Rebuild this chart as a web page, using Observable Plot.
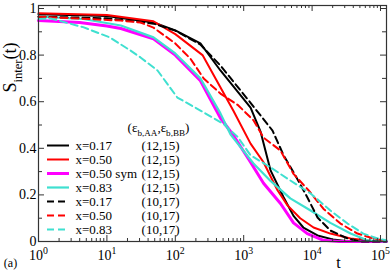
<!DOCTYPE html>
<html>
<head>
<meta charset="utf-8">
<script src="https://cdn.jsdelivr.net/npm/d3@7"></script>
<script src="https://cdn.jsdelivr.net/npm/@observablehq/plot@0.6"></script>
<style>
  html, body { margin: 0; padding: 0; background: #fff; }
  #chart { width: 390px; height: 271px; }
  #chart svg text { font-family: "Liberation Serif", "DejaVu Serif", serif !important; }
</style>
</head>
<body>
<div id="chart"></div>
<script>
// ---- data (t on log axis, S_inter(t)) ----
const t_017_a = [1, 10, 48, 100, 233, 457, 1260, 1770, 2470, 3830, 5350, 7450, 12000, 20000, 36000, 122000];
const S_017_a = [0.975, 0.968, 0.94, 0.906, 0.85, 0.734, 0.575, 0.47, 0.305, 0.19, 0.11, 0.06, 0.026, 0.009, 0.0, 0.0];

const t_050_a = [1, 10, 48, 100, 250, 710, 1260, 1950, 3120, 4370, 6700, 10500, 18500, 36500, 71000, 122000];
const S_050_a = [0.98, 0.972, 0.945, 0.89, 0.80, 0.56, 0.42, 0.34, 0.22, 0.155, 0.10, 0.06, 0.034, 0.013, 0.003, 0.0];

const t_050s_a = [1, 4, 10, 16, 48, 100, 233, 457, 710, 1260, 1950, 3450, 5350, 8500, 14700, 25000, 122000];
const S_050s_a = [0.948, 0.94, 0.925, 0.914, 0.87, 0.80, 0.69, 0.53, 0.455, 0.34, 0.25, 0.163, 0.08, 0.034, 0.005, 0.0, 0.0];

const t_083_a = [1, 4.5, 16, 48, 100, 233, 457, 640, 1390, 2470, 4800, 9500, 18500, 36500, 64000, 122000];
const S_083_a = [0.965, 0.955, 0.927, 0.876, 0.807, 0.70, 0.55, 0.46, 0.335, 0.26, 0.185, 0.133, 0.08, 0.034, 0.005, 0.0];

const t_017_b = [1, 10, 48, 100, 233, 457, 1260, 2640, 3830, 5700, 8500, 12000, 18500, 33000, 51000, 122000];
const S_017_b = [0.965, 0.958, 0.935, 0.905, 0.845, 0.755, 0.595, 0.476, 0.37, 0.283, 0.19, 0.103, 0.047, 0.013, 0.0, 0.0];

const t_050_b = [1, 16, 31, 48, 100, 166, 260, 457, 835, 1390, 1950, 3450, 5350, 8850, 14700, 26000, 46000, 79000, 122000];
const S_050_b = [0.965, 0.948, 0.94, 0.918, 0.85, 0.785, 0.70, 0.635, 0.584, 0.52, 0.446, 0.39, 0.29, 0.22, 0.14, 0.077, 0.034, 0.013, 0.003];

const t_083_b = [1, 1.5, 4.5, 11, 22, 31, 55, 107, 233, 505, 810, 1260, 2470, 4800, 9500, 18500, 33000, 56000, 91000, 122000];
const S_083_b = [0.955, 0.957, 0.92, 0.876, 0.82, 0.79, 0.734, 0.618, 0.562, 0.505, 0.45, 0.37, 0.318, 0.262, 0.206, 0.133, 0.077, 0.034, 0.013, 0.005];

const seriesLabels = ["x=0.17", "x=0.50", "x=0.50 sym", "x=0.83", "x=0.17", "x=0.50", "x=0.83"];
const seriesParams = ["(12,15)", "(12,15)", "(12,15)", "(12,15)", "(10,17)", "(10,17)", "(10,17)"];
const legendTitle = "(ε_{b,AA},ε_{b,BB})";
const yLabel = "S_{inter}(t)";
const xLabel = "t";
const panelLabel = "(a)";

const xTicks = [1, 10, 100, 1000, 10000, 100000];
const yTicks = [0, 0.2, 0.4, 0.6, 0.8, 1];
const yMinor = [0.1, 0.3, 0.5, 0.7, 0.9];

// ---- styles ----
const FONT = "Liberation Serif";
const styles = [
  {color: "#000000", width: 2,   dash: null},
  {color: "#ff0000", width: 2,   dash: null},
  {color: "#ff00ff", width: 3,   dash: null},
  {color: "#3fe0d0", width: 2.2, dash: null},
  {color: "#000000", width: 2,   dash: "7,4"},
  {color: "#ff0000", width: 2,   dash: "7,4"},
  {color: "#3fe0d0", width: 2,   dash: "7,4"}
];
const seriesT = [t_017_a, t_050_a, t_050s_a, t_083_a, t_017_b, t_050_b, t_083_b];
const seriesS = [S_017_a, S_050_a, S_050s_a, S_083_a, S_017_b, S_050_b, S_083_b];

// ---- layout ----
const W = 390, H = 271;
const mL = 38, mR = 4, mT = 5, mB = 30;
const xMax = 1.224e5, yMax = 1.0129;
const fw = W - mL - mR, fh = H - mT - mB;
// convert pixel layout positions (legend, labels) into data coordinates
const px2t = p => Math.pow(10, (p - mL) / fw * Math.log10(xMax));
const py2S = p => (H - mB - p) / fh * yMax;

const xMinor = [];
for (let k = 0; k < 5; k++) for (let m = 2; m <= 9; m++) if (m * 10 ** k < xMax) xMinor.push(m * 10 ** k);

const marks = [];
// curves
seriesT.forEach((ts, i) => {
  const rows = ts.map((t, j) => ({t, S: seriesS[i][j]}));
  marks.push(Plot.line(rows, {x: "t", y: "S", stroke: styles[i].color, strokeWidth: styles[i].width,
    strokeDasharray: styles[i].dash ?? undefined, strokeLinejoin: "round"}));
});

// legend
const legendRows = seriesLabels.map((label, i) => ({i, label, param: seriesParams[i], y: py2S(145 + 14 * i)}));
legendRows.forEach((r) => {
  marks.push(Plot.ruleY([r], {y: "y", x1: px2t(47), x2: px2t(69), stroke: styles[r.i].color,
    strokeWidth: styles[r.i].width, strokeDasharray: styles[r.i].dash ?? undefined}));
});
marks.push(Plot.text(legendRows, {x: px2t(75), y: "y", text: "label", textAnchor: "start", fontSize: 13, fontFamily: FONT, fill: "#000"}));
marks.push(Plot.text(legendRows, {x: px2t(160), y: "y", text: "param", textAnchor: "middle", fontSize: 13, fontFamily: FONT, fill: "#000"}));
marks.push(Plot.text([legendTitle], {x: px2t(158), y: py2S(127), text: d => d, textAnchor: "middle", fontSize: 13, fontFamily: FONT, fill: "#000"}));

// frame and ticks (inward, all four sides)
const tickColor = "#333";
marks.push(Plot.tickX(xTicks, {x: d => d, insetTop: fh - 6, stroke: tickColor}));
marks.push(Plot.tickX(xTicks, {x: d => d, insetBottom: fh - 6, stroke: tickColor}));
marks.push(Plot.tickX(xMinor, {x: d => d, insetTop: fh - 3, stroke: tickColor}));
marks.push(Plot.tickX(xMinor, {x: d => d, insetBottom: fh - 3, stroke: tickColor}));
marks.push(Plot.tickY(yTicks, {y: d => d, insetRight: fw - 6, stroke: tickColor}));
marks.push(Plot.tickY(yTicks, {y: d => d, insetLeft: fw - 6, stroke: tickColor}));
marks.push(Plot.tickY(yMinor, {y: d => d, insetRight: fw - 4, stroke: tickColor}));
marks.push(Plot.tickY(yMinor, {y: d => d, insetLeft: fw - 4, stroke: tickColor}));
marks.push(Plot.frame({stroke: tickColor, strokeWidth: 1.2}));

// tick labels
marks.push(Plot.text(yTicks, {y: d => d, frameAnchor: "left", text: d => String(d), textAnchor: "end", dx: -2, dy: 0, fontSize: 14, fontFamily: FONT, fill: "#000"}));
marks.push(Plot.text(xTicks, {x: d => d, frameAnchor: "bottom", text: d => `10^{${Math.round(Math.log10(d))}}`, dy: 18, fontSize: 14, fontFamily: FONT, fill: "#000"}));

// axis labels (positioned from pixel layout)
marks.push(Plot.text([xLabel], {x: px2t(338), y: py2S(262), text: d => d, fontSize: 16, fontFamily: FONT, fill: "#000"}));
marks.push(Plot.text([panelLabel], {x: px2t(10), y: py2S(263), text: d => d, fontSize: 12, fontFamily: FONT, fill: "#000"}));
marks.push(Plot.text([yLabel], {x: px2t(10), y: py2S(67), text: d => d, rotate: -90, fontSize: 18, fontFamily: FONT, fill: "#000"}));

const chart = Plot.plot({
  width: W, height: H,
  marginLeft: mL, marginRight: mR, marginTop: mT, marginBottom: mB,
  x: {type: "log", domain: [1, xMax], axis: null},
  y: {domain: [0, yMax], axis: null},
  style: {fontFamily: FONT, background: "#fff", overflow: "visible"},
  marks
});
document.getElementById("chart").appendChild(chart);

// rich text: ^{...} superscript, _{...} subscript
chart.querySelectorAll("text").forEach(el => {
  const s = el.textContent;
  if (!/[\^_]\{/.test(s)) return;
  const fs = parseFloat(getComputedStyle(el).fontSize);
  const parts = s.split(/([\^_]\{[^}]*\})/).filter(p => p);
  el.textContent = "";
  let shift = 0;
  for (const p of parts) {
    const ts = document.createElementNS("http://www.w3.org/2000/svg", "tspan");
    let target = 0, txt = p;
    if (p[0] === "^") { target = -0.42 * fs; txt = p.slice(2, -1); ts.setAttribute("font-size", 0.7 * fs); }
    else if (p[0] === "_") { target = 0.3 * fs; txt = p.slice(2, -1); ts.setAttribute("font-size", 0.7 * fs); }
    if (target !== shift) ts.setAttribute("dy", target - shift);
    shift = target;
    ts.textContent = txt;
    el.appendChild(ts);
  }
});
</script>
</body>
</html>
